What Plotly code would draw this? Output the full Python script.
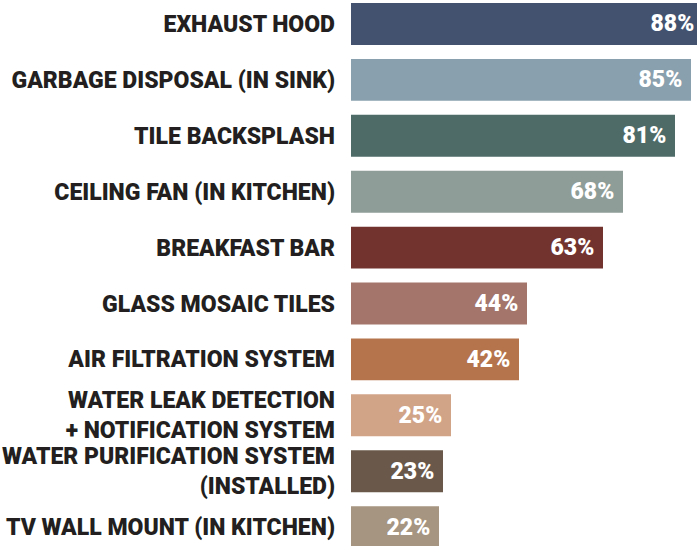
import plotly.graph_objects as go

categories = [
    "EXHAUST HOOD",
    "GARBAGE DISPOSAL (IN SINK)",
    "TILE BACKSPLASH",
    "CEILING FAN (IN KITCHEN)",
    "BREAKFAST BAR",
    "GLASS MOSAIC TILES",
    "AIR FILTRATION SYSTEM",
    "WATER LEAK DETECTION<br>+ NOTIFICATION SYSTEM",
    "WATER PURIFICATION SYSTEM<br>(INSTALLED)",
    "TV WALL MOUNT (IN KITCHEN)",
]
values = [88, 85, 81, 68, 63, 44, 42, 25, 23, 22]
colors = [
    "#43536F", "#89A0AE", "#4E6B68", "#8E9D97", "#72332F",
    "#A3756B", "#B5744C", "#D1A387", "#6A594A", "#A69580",
]

FONT = "Roboto, sans-serif"

fig = go.Figure(
    go.Bar(
        x=values,
        y=categories,
        orientation="h",
        marker=dict(color=colors, line=dict(width=0)),
        width=0.75,
        text=[f"{v}%\u00a0" for v in values],
        textposition="inside",
        insidetextanchor="end",
        textangle=0,
        insidetextfont=dict(family=FONT, size=23, color="white", weight=900),
        hoverinfo="skip",
    )
)

fig.update_layout(
    width=697,
    height=546,
    margin=dict(l=351, r=0, t=0, b=0),
    paper_bgcolor="white",
    plot_bgcolor="white",
    showlegend=False,
)
fig.update_xaxes(range=[0, 86.5], visible=False, showgrid=False, zeroline=False)
fig.update_yaxes(
    type="category",
    range=[9.338, -0.429],
    showgrid=False,
    zeroline=False,
    showline=False,
    ticks="",
    ticklabelstandoff=15,
    tickfont=dict(family=FONT, size=23, color="#231F20", weight=900),
    automargin=False,
)

fig.write_html("out.html", config={"displayModeBar": False})
